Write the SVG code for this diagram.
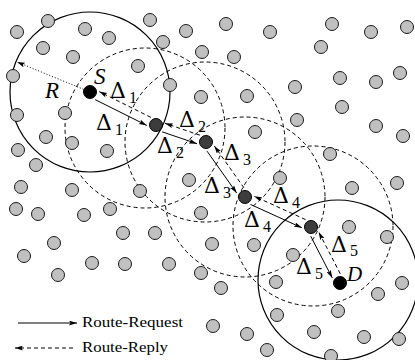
<svg xmlns="http://www.w3.org/2000/svg" width="415" height="360" viewBox="0 0 415 360">
  <style>
    .bg{fill:#fff}
    .node{fill:#c0c0c0;stroke:#1a1a1a;stroke-width:1}
    .relay{fill:#3c3c3c;stroke:#000;stroke-width:1}
    .end{fill:#000;stroke:#000;stroke-width:1}
    .range{fill:none;stroke:#000;stroke-width:1.2}
    .range.dashed{stroke-width:1;stroke-dasharray:4 3}
    .req{stroke:#000;stroke-width:1;fill:none;marker-end:url(#ah)}
    .rep{stroke:#000;stroke-width:1;fill:none;stroke-dasharray:4 3;marker-end:url(#ah)}
    .rad{stroke:#000;stroke-width:1;fill:none;stroke-dasharray:1 2;marker-end:url(#ah)}
    .delta{font-family:"DejaVu Serif","Liberation Serif",serif;font-size:22px;fill:#000}
    .sub{font-family:"Liberation Serif",serif;font-size:16px;fill:#000}
    .name{font-family:"Liberation Serif",serif;font-style:italic;font-size:23px;fill:#000}
    .name.small{font-size:21px}
    .legend{font-family:"Liberation Serif",serif;font-size:15px;fill:#000}
  </style>
  <defs>
    <marker id="ah" viewBox="0 0 10 6" refX="10" refY="3" markerWidth="8" markerHeight="5" markerUnits="userSpaceOnUse" orient="auto">
      <path d="M0,0 L10,3 L0,6 L2,3 z" fill="#000"/>
    </marker>
  </defs>
  <rect class="bg" x="0" y="0" width="415" height="360"/>

  <!-- transmission ranges -->
  <g id="ranges">
    <circle class="range" cx="90" cy="92" r="80"/>
    <circle class="range dashed" cx="145" cy="128" r="80"/>
    <circle class="range dashed" cx="205" cy="142" r="80"/>
    <circle class="range dashed" cx="245" cy="197" r="80"/>
    <circle class="range dashed" cx="313" cy="226" r="80"/>
    <circle class="range" cx="338" cy="280" r="80"/>
  </g>

  <!-- idle nodes -->
  <g id="idle-nodes">
    <circle class="node" cx="17" cy="32" r="6.5"/>
    <circle class="node" cx="48" cy="21" r="6.5"/>
    <circle class="node" cx="85" cy="29" r="6.5"/>
    <circle class="node" cx="109" cy="38" r="6.5"/>
    <circle class="node" cx="43" cy="48" r="6.5"/>
    <circle class="node" cx="73" cy="57" r="6.5"/>
    <circle class="node" cx="13" cy="76" r="6.5"/>
    <circle class="node" cx="17" cy="115" r="6.5"/>
    <circle class="node" cx="65" cy="113" r="6.5"/>
    <circle class="node" cx="138" cy="66" r="6.5"/>
    <circle class="node" cx="150" cy="20" r="6.5"/>
    <circle class="node" cx="186" cy="31" r="6.5"/>
    <circle class="node" cx="226" cy="24" r="6.5"/>
    <circle class="node" cx="163" cy="42" r="6.5"/>
    <circle class="node" cx="202" cy="52" r="6.5"/>
    <circle class="node" cx="234" cy="57" r="6.5"/>
    <circle class="node" cx="170" cy="85" r="6.5"/>
    <circle class="node" cx="201" cy="97" r="6.5"/>
    <circle class="node" cx="247" cy="96" r="6.5"/>
    <circle class="node" cx="270" cy="32" r="6.5"/>
    <circle class="node" cx="332" cy="24" r="6.5"/>
    <circle class="node" cx="371" cy="32" r="6.5"/>
    <circle class="node" cx="407" cy="27" r="6.5"/>
    <circle class="node" cx="321" cy="47" r="6.5"/>
    <circle class="node" cx="295" cy="87" r="6.5"/>
    <circle class="node" cx="340" cy="78" r="6.5"/>
    <circle class="node" cx="376" cy="82" r="6.5"/>
    <circle class="node" cx="400" cy="73" r="6.5"/>
    <circle class="node" cx="342" cy="107" r="6.5"/>
    <circle class="node" cx="297" cy="120" r="6.5"/>
    <circle class="node" cx="376" cy="126" r="6.5"/>
    <circle class="node" cx="403" cy="136" r="6.5"/>
    <circle class="node" cx="330" cy="154" r="6.5"/>
    <circle class="node" cx="280" cy="178" r="6.5"/>
    <circle class="node" cx="352" cy="188" r="6.5"/>
    <circle class="node" cx="397" cy="183" r="6.5"/>
    <circle class="node" cx="349" cy="227" r="6.5"/>
    <circle class="node" cx="387" cy="237" r="6.5"/>
    <circle class="node" cx="255" cy="132" r="6.5"/>
    <circle class="node" cx="189" cy="180" r="6.5"/>
    <circle class="node" cx="140" cy="191" r="6.5"/>
    <circle class="node" cx="201" cy="213" r="6.5"/>
    <circle class="node" cx="155" cy="233" r="6.5"/>
    <circle class="node" cx="212" cy="244" r="6.5"/>
    <circle class="node" cx="46" cy="137" r="6.5"/>
    <circle class="node" cx="72" cy="143" r="6.5"/>
    <circle class="node" cx="18" cy="150" r="6.5"/>
    <circle class="node" cx="107" cy="151" r="6.5"/>
    <circle class="node" cx="36" cy="165" r="6.5"/>
    <circle class="node" cx="21" cy="187" r="6.5"/>
    <circle class="node" cx="72" cy="190" r="6.5"/>
    <circle class="node" cx="110" cy="209" r="6.5"/>
    <circle class="node" cx="16" cy="209" r="6.5"/>
    <circle class="node" cx="38" cy="214" r="6.5"/>
    <circle class="node" cx="84" cy="215" r="6.5"/>
    <circle class="node" cx="123" cy="233" r="6.5"/>
    <circle class="node" cx="54" cy="243" r="6.5"/>
    <circle class="node" cx="24" cy="256" r="6.5"/>
    <circle class="node" cx="92" cy="263" r="6.5"/>
    <circle class="node" cx="125" cy="264" r="6.5"/>
    <circle class="node" cx="58" cy="275" r="6.5"/>
    <circle class="node" cx="254" cy="245" r="6.5"/>
    <circle class="node" cx="169" cy="264" r="6.5"/>
    <circle class="node" cx="201" cy="273" r="6.5"/>
    <circle class="node" cx="221" cy="288" r="6.5"/>
    <circle class="node" cx="213" cy="326" r="6.5"/>
    <circle class="node" cx="247" cy="334" r="6.5"/>
    <circle class="node" cx="267" cy="350" r="6.5"/>
    <circle class="node" cx="293" cy="255" r="6.5"/>
    <circle class="node" cx="276" cy="282" r="6.5"/>
    <circle class="node" cx="402" cy="283" r="6.5"/>
    <circle class="node" cx="378" cy="294" r="6.5"/>
    <circle class="node" cx="277" cy="315" r="6.5"/>
    <circle class="node" cx="338" cy="311" r="6.5"/>
    <circle class="node" cx="314" cy="332" r="6.5"/>
    <circle class="node" cx="364" cy="337" r="6.5"/>
    <circle class="node" cx="399" cy="339" r="6.5"/>
    <circle class="node" cx="331" cy="356" r="6.5"/>
  </g>

  <!-- route connectors -->
  <g id="connectors">
    <line class="rad" x1="83.5" y1="89.3" x2="17" y2="62"/>
    <line class="req" x1="95.1" y1="99.6" x2="146.8" y2="125.4"/>
    <line class="rep" x1="150.9" y1="117.4" x2="99.2" y2="91.6"/>
    <line class="req" x1="162.1" y1="131.8" x2="197.0" y2="143.7"/>
    <line class="rep" x1="199.9" y1="135.2" x2="165.0" y2="123.3"/>
    <line class="req" x1="207.0" y1="151.1" x2="236.7" y2="193.1"/>
    <line class="rep" x1="244.0" y1="187.9" x2="214.3" y2="145.9"/>
    <line class="req" x1="250.4" y1="204.4" x2="301.9" y2="227.8"/>
    <line class="rep" x1="305.6" y1="219.6" x2="254.1" y2="196.2"/>
    <line class="req" x1="310.7" y1="236.2" x2="332.3" y2="278.0"/>
    <line class="rep" x1="340.3" y1="273.8" x2="318.7" y2="232.0"/>
  </g>

  <!-- route nodes -->
  <g id="node-S">
    <circle class="end" cx="90" cy="92" r="6.5"/>
    <text class="name" x="94" y="84">S</text>
  </g>
  <g id="node-n1"><circle class="relay" cx="156" cy="125" r="6.5"/></g>
  <g id="node-n2"><circle class="relay" cx="206" cy="142" r="6.5"/></g>
  <g id="node-n3"><circle class="relay" cx="245" cy="197" r="6.5"/></g>
  <g id="node-n4"><circle class="relay" cx="311" cy="227" r="6.5"/></g>
  <g id="node-D">
    <circle class="end" cx="340" cy="283" r="6.5"/>
    <text class="name small" x="347" y="281">D</text>
  </g>

  <!-- range label -->
  <text class="name" x="45" y="98">R</text>

  <!-- hop delay labels -->
  <g id="labels">
    <text class="delta" x="110" y="98">Δ</text><text class="sub" x="129" y="103">1</text>
    <text class="delta" x="96" y="130">Δ</text><text class="sub" x="115" y="135">1</text>
    <text class="delta" x="179" y="127">Δ</text><text class="sub" x="198" y="132">2</text>
    <text class="delta" x="157" y="153">Δ</text><text class="sub" x="176" y="158">2</text>
    <text class="delta" x="224" y="160">Δ</text><text class="sub" x="243" y="165">3</text>
    <text class="delta" x="204" y="193">Δ</text><text class="sub" x="223" y="198">3</text>
    <text class="delta" x="273" y="203">Δ</text><text class="sub" x="292" y="208">4</text>
    <text class="delta" x="244" y="227">Δ</text><text class="sub" x="263" y="232">4</text>
    <text class="delta" x="331" y="252">Δ</text><text class="sub" x="350" y="256">5</text>
    <text class="delta" x="296" y="274">Δ</text><text class="sub" x="315" y="279">5</text>
  </g>

  <!-- legend -->
  <g id="legend">
    <line class="req" x1="18" y1="323" x2="77" y2="323"/>
    <text class="legend" x="82" y="327" textLength="101" lengthAdjust="spacingAndGlyphs">Route-Request</text>
    <line class="rep" x1="73" y1="348" x2="15" y2="348"/>
    <text class="legend" x="82" y="352" textLength="86" lengthAdjust="spacingAndGlyphs">Route-Reply</text>
  </g>
</svg>
